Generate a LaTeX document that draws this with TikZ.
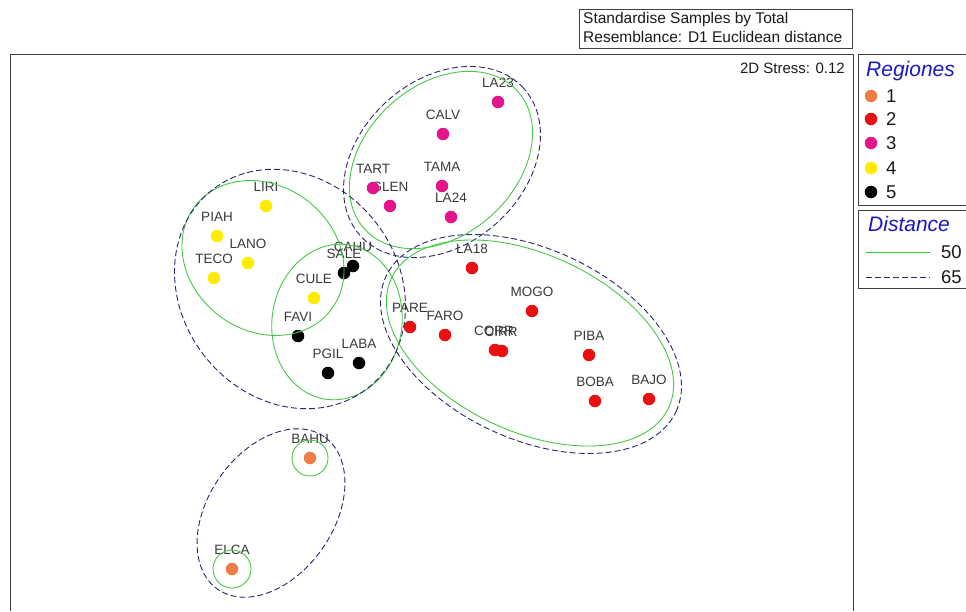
\documentclass[tikz,border=0pt]{standalone}
\usepackage{fontspec}
\setmainfont{Liberation Sans}
\definecolor{c1}{RGB}{238,125,70}
\definecolor{c2}{RGB}{232,16,16}
\definecolor{c3}{RGB}{228,20,138}
\definecolor{c4}{RGB}{255,236,0}
\definecolor{c5}{RGB}{0,0,0}
\definecolor{grn}{RGB}{70,200,70}
\definecolor{navy}{RGB}{40,40,110}
\definecolor{legblue}{RGB}{25,25,190}
\begin{document}
\begin{tikzpicture}[x=1pt,y=1pt,
  dot/.style={circle,inner sep=0pt,minimum size=12.5pt,draw=none},
  lab/.style={anchor=base,inner sep=0pt,text=black!78,font=\fontsize{13.5}{15}\selectfont},
  g50/.style={draw=grn,line width=0.9pt},
  d65/.style={draw=navy,line width=0.9pt,dash pattern=on 6pt off 3pt},
  frame/.style={draw=black!75,line width=1pt},
  ttl/.style={anchor=base west,inner sep=0pt,text=black!90,font=\fontsize{15.5}{17}\selectfont},
  legt/.style={anchor=base west,inner sep=0pt,text=legblue,font=\fontsize{21}{24}\selectfont\itshape},
  legn/.style={anchor=base west,inner sep=0pt,text=black!90,font=\fontsize{18.5}{20}\selectfont}]
\useasboundingbox (0,0) rectangle (966,-611);
% frames
\draw[frame] (579,-9) rectangle (852,-48);
\node[ttl] (t1) at (583,-23.5) {Standardise Samples by Total};
\node[ttl] (t2) at (583,-42.5) {Resemblance: D1 Euclidean distance};
\draw[frame] (10,-611) -- (10,-54) -- (853,-54) -- (853,-611);
\node[anchor=base east,inner sep=0pt,text=black!90,font=\fontsize{15}{17}\selectfont] (stress) at (845,-73.5) {2D Stress: 0.12};
% labels
\foreach \n/\x/\y/\c in {LA23/498/102/c3,CALV/443/134/c3,TART/373/188/c3,GLEN/390/206/c3,TAMA/442/186/c3,LA24/451/217/c3,
  LIRI/266/206/c4,PIAH/217/236/c4,LANO/248/263/c4,TECO/214/278/c4,CULE/314/298/c4,
  CAHU/353/266/c5,SALE/344/273/c5,FAVI/298/336/c5,PGIL/328/373/c5,LABA/359/363/c5,
  LA18/472/268/c2,MOGO/532/311/c2,PARE/410/327/c2,FARO/445/335/c2,CORR/494/350/c2,CIRR/501/351/c2,
  PIBA/589/355/c2,BOBA/595/401/c2,BAJO/649/399/c2,BAHU/310/458/c1,ELCA/232/569/c1}
  {\node[lab] (\n-l) at (\x,{15-\y}) {\n};}
% dots
\foreach \n/\x/\y/\c in {LA23/498/102/c3,CALV/443/134/c3,TART/373/188/c3,GLEN/390/206/c3,TAMA/442/186/c3,LA24/451/217/c3,
  LIRI/266/206/c4,PIAH/217/236/c4,LANO/248/263/c4,TECO/214/278/c4,CULE/314/298/c4,
  CAHU/353/266/c5,SALE/344/273/c5,FAVI/298/336/c5,PGIL/328/373/c5,LABA/359/363/c5,
  LA18/472/268/c2,MOGO/532/311/c2,PARE/410/327/c2,FARO/445/335/c2,CORR/495/350/c2,CIRR/502/351/c2,
  PIBA/589/355/c2,BOBA/595/401/c2,BAJO/649/399/c2,BAHU/310/458/c1,ELCA/232/569/c1}
  {\node[dot,fill=\c] (\n) at (\x,-\y) {};}
% cluster outlines
\draw[g50,rotate around={42:(441,-160)}] (441,-160) ellipse [x radius=103pt,y radius=75pt];
\draw[d65,rotate around={42:(442,-162)}] (442,-162) ellipse [x radius=110pt,y radius=82pt];
\draw[g50,rotate around={-37:(263,-258)}] (263,-258) ellipse [x radius=85.5pt,y radius=72.5pt];
\draw[g50,rotate around={-8:(337,-322)}] (337,-322) ellipse [x radius=65pt,y radius=78pt];
\draw[d65,rotate around={-52:(290,-289)}] (290,-289) ellipse [x radius=126pt,y radius=108.6pt];
\draw[g50,rotate around={-25:(530,-343)}] (530,-343) ellipse [x radius=153pt,y radius=88.5pt];
\draw[d65,rotate around={-25:(531,-344)}] (531,-344) ellipse [x radius=160pt,y radius=95pt];
\draw[d65,rotate around={55:(271,-513)}] (271,-513) ellipse [x radius=93pt,y radius=62.5pt];
\draw[g50] (BAHU) circle [radius=18pt];
\draw[g50] (ELCA) circle [radius=19pt];
% legend: Regiones
\draw[frame] (966,-54) -- (858,-54) -- (858,-205) -- (966,-205);
\node[legt] (regt) at (866,-76) {Regiones};
\foreach \i/\c/\y in {1/c1/96,2/c2/119,3/c3/143,4/c4/168,5/c5/192}{
  \node[dot,fill=\c] (leg\i) at (871,-\y) {};
  \node[legn] (legl\i) at (886,{-\y-6.6}) {\i};
}
% legend: Distance
\draw[frame] (966,-210) -- (858,-210) -- (858,-288) -- (966,-288);
\node[legt] (dist) at (868,-231) {Distance};
\coordinate (ga) at (866,-252); \coordinate (gb) at (930,-252);
\coordinate (da) at (866,-277); \coordinate (db) at (930,-277);
\draw[g50] (ga) -- (gb);
\draw[d65] (da) -- (db);
\node[legn] (l50) at (941,-258.6) {50};
\node[legn] (l65) at (941,-283.6) {65};
\end{tikzpicture}
\end{document}
